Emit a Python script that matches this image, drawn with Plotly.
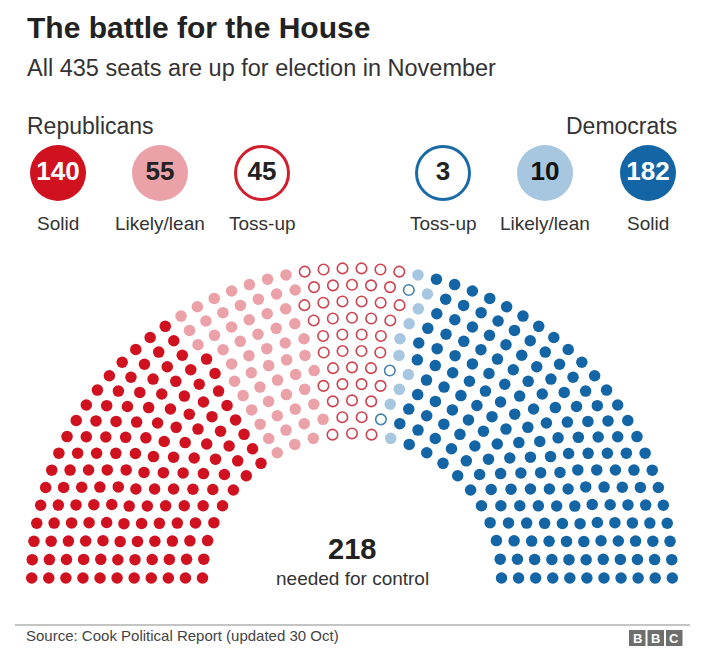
import numpy as np
import plotly.graph_objects as go

# Seat ratings (Cook Political Report, 30 Oct)
groups = ["Solid", "Likely/lean", "Toss-up", "Toss-up", "Likely/lean", "Solid"]
seats = [140, 55, 45, 3, 10, 182]
fill_colors = ["#cf1120", "#eba1a8", "#ffffff", "#ffffff", "#a7c6df", "#1465a5"]
line_colors = ["#cf1120", "#eba1a8", "#cd4450", "#4682ad", "#a7c6df", "#1465a5"]
legend_lines = ["#cf1120", "#eba1a8", "#d01f2e", "#1a6aa6", "#a7c6df", "#1465a5"]
hollow = [False, False, True, True, False, False]
number_colors = ["#ffffff", "#222222", "#222222", "#222222", "#111111", "#ffffff"]
needed = 218
n_rows = 11

FONT = "Liberation Sans"
# page has an 8px body margin, so the figure is drawn in [8, 696] x [8, 659]
PAD = 8
W, H = 704, 667

# hemicycle geometry (pixel space)
cx, cy = 352, 578
r_in, r_out = 149.5, 320.3
squash = 0.967

total = sum(seats)
radii = np.linspace(r_in, r_out, n_rows)
raw = radii / radii.sum() * total
per_row = np.floor(raw).astype(int)
rest = total - per_row.sum()
per_row[np.argsort(raw - per_row)[::-1][:rest]] += 1

angles, rads = [], []
for r, n in zip(radii, per_row):
    a = np.linspace(np.pi, 0, n)
    angles.extend(a)
    rads.extend([r] * n)
angles = np.array(angles)
rads = np.array(rads)
order = np.lexsort((rads, -angles))
angles, rads = angles[order], rads[order]
xs = cx + rads * np.cos(angles)
ys = cy - rads * squash * np.sin(angles)
group_idx = np.repeat(np.arange(len(seats)), seats)

fig = go.Figure()
for i in range(len(seats)):
    m = group_idx == i
    if hollow[i]:
        marker = dict(symbol="circle-open", size=10.5, color=line_colors[i],
                      line=dict(width=1.6, color=line_colors[i]))
    else:
        marker = dict(symbol="circle", size=11.5, color=fill_colors[i], line=dict(width=0))
    fig.add_trace(go.Scatter(x=xs[m], y=ys[m], mode="markers", marker=marker,
                             hoverinfo="skip", showlegend=False))

# legend bubbles
leg_x = [58, 160, 262, 443, 545, 648]
leg_y = 173
for i in range(len(seats)):
    fig.add_trace(go.Scatter(
        x=[leg_x[i]], y=[leg_y], mode="markers+text",
        text=[f"<b>{seats[i]}</b>"], textposition="middle center",
        textfont=dict(family=FONT, size=26, color=number_colors[i]),
        marker=dict(size=56 if not hollow[i] else 53, color=fill_colors[i],
                    line=dict(width=3 if hollow[i] else 0, color=legend_lines[i])),
        hoverinfo="skip", showlegend=False))

ann = []
def txt(x, y, s, size, color="#222222", anchor="left", bold=False):
    ann.append(dict(x=x, y=y, xref="x", yref="y", text=f"<b>{s}</b>" if bold else s,
                    showarrow=False, xanchor=anchor, yanchor="middle",
                    font=dict(family=FONT, size=size, color=color)))

txt(25, 27, "The battle for the House", 30, bold=True)
txt(25, 68, "All 435 seats are up for election in November", 23.5, color="#333333")
txt(25, 126, "Republicans", 23, color="#333333")
txt(679, 126, "Democrats", 23, color="#333333", anchor="right")
for i, g in enumerate(groups):
    txt(leg_x[i], 223, g, 19, color="#333333", anchor="center")
txt(352, 549, str(needed), 29, bold=True, anchor="center")
txt(352, 578, "needed for control", 19, color="#333333", anchor="center")
txt(24, 635, "Source: Cook Political Report (updated 30 Oct)", 15, color="#444444")

shapes = [dict(type="line", x0=15, x1=690, y0=625, y1=625, xref="x", yref="y",
               line=dict(color="#b0b0b0", width=1.5))]
for k, letter in enumerate("BBC"):
    x0 = 629 + k * 18.5
    shapes.append(dict(type="rect", x0=x0, x1=x0 + 16.5, y0=630, y1=646,
                       xref="x", yref="y", fillcolor="#6e6e6e", line=dict(width=0)))
    txt(x0 + 8.25, 638.5, letter, 13, color="#ffffff", anchor="center", bold=True)

fig.update_layout(
    width=W - 2 * PAD, height=H - 2 * PAD, margin=dict(l=0, r=0, t=0, b=0),
    paper_bgcolor="white", plot_bgcolor="white",
    xaxis=dict(range=[PAD, W - PAD], visible=False, fixedrange=True),
    yaxis=dict(range=[H - PAD, PAD], visible=False, fixedrange=True),
    annotations=ann, shapes=shapes,
)
fig.write_html("out.html")
